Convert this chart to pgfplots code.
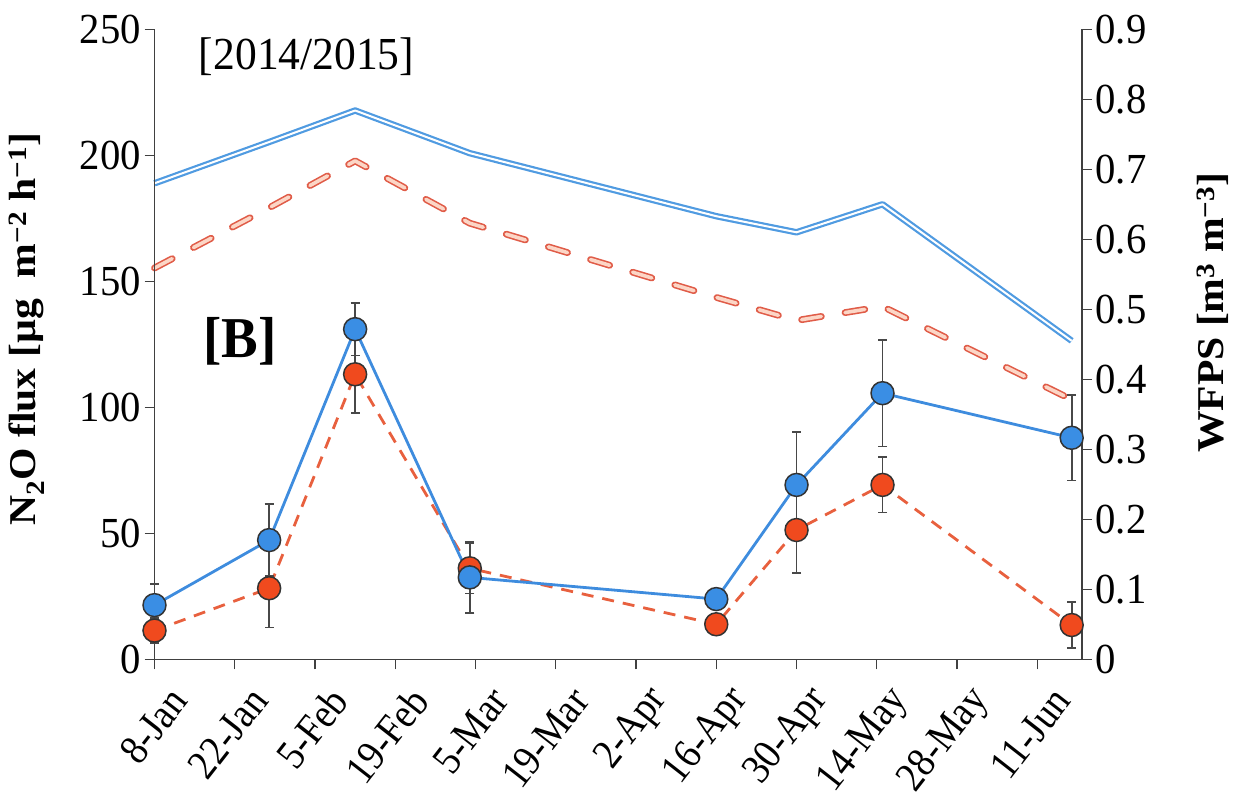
\documentclass[border=0pt]{standalone}
\usepackage{fontspec}
\setmainfont{Liberation Serif}[FakeStretch=0.95]
\newfontfamily\labfont{Liberation Serif}[FakeStretch=1.1]
\newfontfamily\datefont{Liberation Serif}[FakeStretch=0.9]
\usepackage{pgfplots}
\pgfplotsset{compat=1.18}

\definecolor{fluxblue}{RGB}{58,142,228}
\definecolor{fluxred}{RGB}{240,74,30}
\definecolor{lineblue}{RGB}{62,140,222}
\definecolor{linered}{RGB}{232,96,62}
\definecolor{wfpsblue}{RGB}{80,155,225}
\definecolor{wfpsred}{RGB}{224,92,72}
\definecolor{wfpsredin}{RGB}{252,214,198}
\definecolor{axisgray}{RGB}{64,64,64}
\definecolor{errgray}{RGB}{72,72,72}

% N2O flux: day (0 = 8 Jan), mean, standard error
\pgfplotstableread{
d    m      e
0    11.4   5
20   28.2   15.6
35   113.1  15.5
55   36.1   10
98   13.9   3
112  51.3   17
127  69.2   11
160  13.6   9
}\fluxred
\pgfplotstableread{
d    m      e
0    21.5   8.4
20   47.3   14.3
35   131.0  10.5
55   32.5   14
98   23.9   3
112  69.2   21
127  105.6  21.2
160  87.9   17
}\fluxblue
% WFPS
\pgfplotstableread{
d    w
0    0.680
20   0.739
35   0.784
55   0.723
98   0.633
112  0.610
127  0.650
160  0.455
}\wfpsblue
\pgfplotstableread{
d    w
0    0.559
20   0.645
35   0.712
55   0.623
98   0.517
112  0.484
127  0.504
160  0.371
}\wfpsred

\begin{document}
\begin{tikzpicture}
\useasboundingbox (-154.5bp,-141.7bp) rectangle (1087.5bp,659.3bp);
% right axis: WFPS
\begin{axis}[
  scale only axis, width=927.5bp, height=630bp,
  xmin=0, xmax=161.8, ymin=0, ymax=0.9,
  axis x line=none, axis y line*=right,
  axis line style={axisgray, line width=1.4bp, -},
  ytick={0,0.1,...,0.9},
  yticklabel style={/pgf/number format/.cd, fixed, precision=1},
  tick align=outside, major tick length=10bp,
  tick style={axisgray, line width=1.4bp},
  every tick label/.append style={font=\fontsize{43}{46}\selectfont},
  /pgf/number format/assume math mode=true,
  clip=false,
]
\addplot[draw=wfpsblue, line width=2.2bp, double=white, double distance=2bp, line join=round]
  table[x=d, y=w] {\wfpsblue};
\addplot[draw=wfpsred, line width=1.6bp, double=wfpsredin, double distance=3.6bp,
  dash pattern=on 20bp off 24bp, line cap=round, line join=round]
  table[x=d, y=w] {\wfpsred};
\node[rotate=90, font=\labfont\bfseries\fontsize{38}{42}\selectfont]
  at (axis description cs:1.141,0.55) {WFPS [m\textsuperscript{3} m\textsuperscript{−3}]};
\end{axis}
% left axis: N2O flux
\begin{axis}[
  scale only axis, width=927.5bp, height=630bp,
  xmin=0, xmax=161.8, ymin=0, ymax=250,
  axis x line*=bottom, axis y line*=left,
  axis line style={axisgray, line width=1.4bp, -},
  xtick={0,14,...,154},
  xticklabels={8-Jan,22-Jan,5-Feb,19-Feb,5-Mar,19-Mar,2-Apr,16-Apr,30-Apr,14-May,28-May,11-Jun},
  ytick={0,50,...,250},
  tick align=outside, major tick length=10bp,
  tick style={axisgray, line width=1.4bp},
  every tick label/.append style={font=\fontsize{43}{46}\selectfont},
  xticklabel style={font=\datefont\fontsize{42}{46}\selectfont, rotate=52, anchor=east,
    inner sep=2bp, xshift=-2bp, yshift=-34bp},
  /pgf/number format/assume math mode=true,
  clip=false,
]
\addplot[color=linered, line width=2.8bp, dash pattern=on 12bp off 9bp,
  mark=*, mark size=11.5bp,
  mark options={solid, fill=fluxred, draw=black!80, line width=1.5bp},
  error bars/.cd, y dir=both, y explicit,
  error bar style={solid, errgray, line width=1.7bp},
  error mark options={solid, errgray, line width=1.7bp, mark size=4.5bp, rotate=90}]
  table[x=d, y=m, y error=e] {\fluxred};
\addplot[color=lineblue, line width=2.8bp,
  mark=*, mark size=11.5bp,
  mark options={solid, fill=fluxblue, draw=black!80, line width=1.5bp},
  error bars/.cd, y dir=both, y explicit,
  error bar style={solid, errgray, line width=1.7bp},
  error mark options={solid, errgray, line width=1.7bp, mark size=4.5bp, rotate=90}]
  table[x=d, y=m, y error=e] {\fluxblue};
\node[font=\fontsize{46}{50}\selectfont] at (axis description cs:0.164,0.956) {[2014/2015]};
\node[font=\bfseries\fontsize{58}{62}\selectfont] at (axis description cs:0.092,0.504) {[B]};
\node[rotate=90, font=\labfont\bfseries\fontsize{38}{42}\selectfont]
  at (axis description cs:-0.1375,0.524) {N\textsubscript{2}O flux [µg\ \ m\textsuperscript{−2} h\textsuperscript{−1}]};
\end{axis}
\end{tikzpicture}
\end{document}
